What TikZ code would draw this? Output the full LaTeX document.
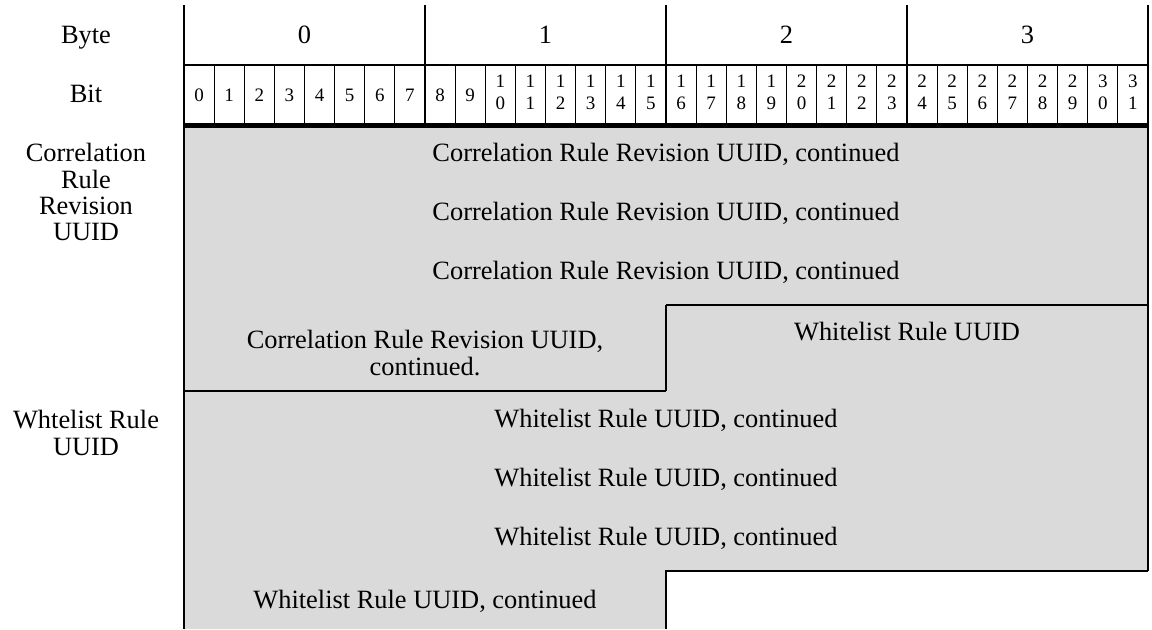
\documentclass[tikz,border=0pt]{standalone}
\usepackage{fontspec}
\setmainfont{Liberation Serif}
\definecolor{fieldgray}{RGB}{218,218,218}
\tikzset{
  lbl/.style={font=\fontsize{13.2}{13.2}\selectfont, inner sep=0pt, align=center},
  bitlbl/.style={font=\fontsize{9.5}{11}\selectfont, inner sep=0pt, align=center},
  thinrule/.style={line width=0.55pt},
  rule/.style={line width=0.9pt}
}
\begin{document}
\begin{tikzpicture}[x=0.5pt,y=-0.5pt]
   \useasboundingbox (0,0) rectangle (1152,629);
   % grey field area
   \fill[fieldgray] (184,125) -- (1148,125) -- (1148,571) -- (666,571) -- (666,629) -- (184,629) -- cycle;
   % header frame
   \draw[rule] (184,5) -- (184,629);
   \draw[rule] (1148,5) -- (1148,571);
   \draw[thinrule] (184,65) -- (1148,65);
   \foreach \x in {425,666,907}
      \draw[rule] (\x,5) -- (\x,125);
   \foreach \b in {1,...,31}
      \draw[thinrule] (184+\b*30.125,65) -- (184+\b*30.125,125);
   \draw[line width=2.5pt] (184,125) -- (1148,125);
   % field borders
   \draw[rule] (666,305) -- (1148,305);
   \draw[rule] (666,305) -- (666,391);
   \draw[rule] (184,391) -- (666,391);
   \draw[rule] (1148,571) -- (666,571) -- (666,629);
   % byte and bit numbers
   \node[lbl] (bytelbl) at (86,38) {Byte};
   \node[lbl] (bitlbl) at (86,94) {Bit};
   \foreach \n in {0,...,3}
      \node[lbl] (byte\n) at (304.5+\n*241,35) {\n};
   \foreach \b in {0,...,31}{
      \pgfmathtruncatemacro\tens{\b/10}
      \pgfmathtruncatemacro\units{\b-10*\tens}
      \ifnum\b<10
         \node[bitlbl] (bit\b) at (199.06+\b*30.125,95) {\b};
      \else
         \node[bitlbl] (bit\b) at (199.06+\b*30.125,92) {\tens\\\units};
      \fi
   }
   % row labels
   \node[lbl, anchor=north] (corrlbl) at (86,143) {Correlation\\Rule\\Revision\\UUID};
   \node[lbl, anchor=north] (whitelbl) at (86,410) {Whtelist Rule\\UUID};
   % fields
   \node[lbl] (corr1) at (666,154) {Correlation Rule Revision UUID, continued};
   \node[lbl] (corr2) at (666,213) {Correlation Rule Revision UUID, continued};
   \node[lbl] (corr3) at (666,272) {Correlation Rule Revision UUID, continued};
   \node[lbl] (corr4) at (425,353) {Correlation Rule Revision UUID,\\continued.};
   \node[lbl] (white0) at (907,332) {Whitelist Rule UUID};
   \node[lbl] (white1) at (666,420) {Whitelist Rule UUID, continued};
   \node[lbl] (white2) at (666,479) {Whitelist Rule UUID, continued};
   \node[lbl] (white3) at (666,538) {Whitelist Rule UUID, continued};
   \node[lbl] (white4) at (425,601) {Whitelist Rule UUID, continued};
\end{tikzpicture}
\end{document}
